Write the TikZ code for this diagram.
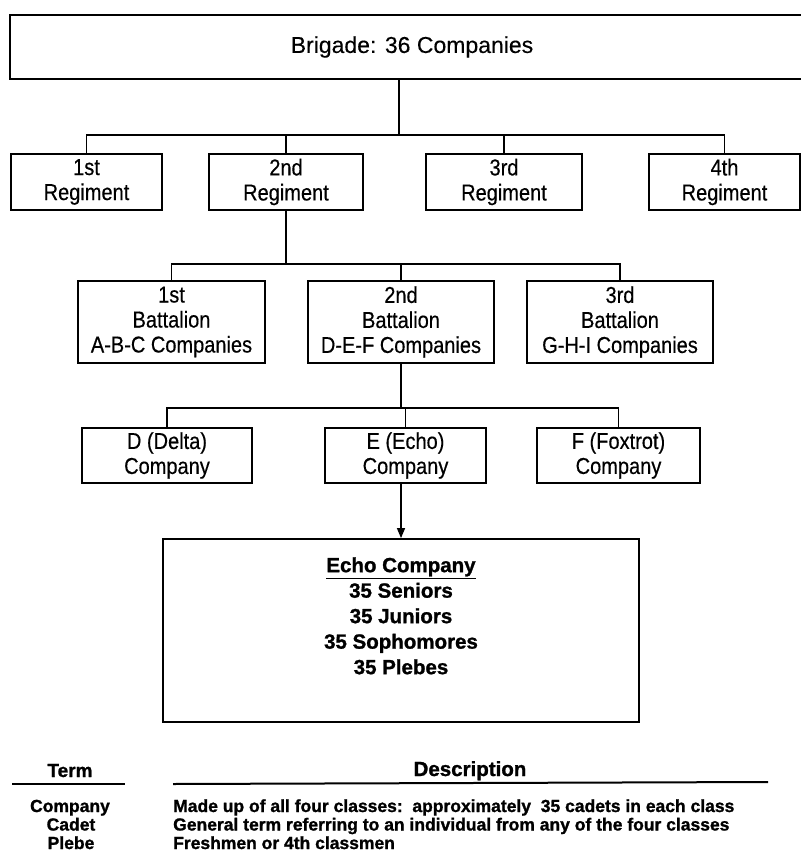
\documentclass[tikz,border=0pt]{standalone}
\usepackage{fontspec}
\setmainfont{Liberation Sans}
\newfontfamily\plainsans[FakeBold=0.3]{Liberation Sans}
\newfontfamily\narrowsans[FakeStretch=0.87, FakeBold=0.4]{Liberation Sans}
\newfontfamily\heavysans[FakeBold=1.2]{Liberation Sans Bold}
\usepackage{tikz}
\usetikzlibrary{positioning,arrows.meta}

\begin{document}
\begin{tikzpicture}[x=1pt, y=-1pt, >={Triangle[length=10pt,width=8pt]},
  box/.style={draw, line width=1.8pt, align=center, inner sep=0pt,
    font=\narrowsans\fontsize{23}{25}\selectfont},
  wire/.style={line width=1.4pt},
  rule/.style={line width=2pt},
  echotext/.style={align=center, inner sep=0pt, font=\heavysans\fontsize{20.5}{25.5}\selectfont},
  tabtext/.style={inner sep=0pt, anchor=base, font=\heavysans\fontsize{17.5}{18.5}\selectfont}]
  \useasboundingbox (0,0) rectangle (800,856);

  \node[box, minimum width=804pt, minimum height=64pt, font=\plainsans\fontsize{23}{25}\selectfont] (brigade) at (412,47) {Brigade: 36 Companies};

  \node[box, minimum width=151pt, minimum height=56pt] (reg1) at (86.5,182) {1st\\Regiment};
  \node[box, minimum width=154pt, minimum height=56pt] (reg2) at (286,182) {2nd\\Regiment};
  \node[box, minimum width=156pt, minimum height=56pt] (reg3) at (504,182) {3rd\\Regiment};
  \node[box, minimum width=151pt, minimum height=56pt] (reg4) at (724.5,182) {4th\\Regiment};

  \node[box, minimum width=187pt, minimum height=82pt] (bat1) at (171.5,322) {1st\\Battalion\\A-B-C Companies};
  \node[box, minimum width=186pt, minimum height=82pt] (bat2) at (401,322) {2nd\\Battalion\\D-E-F Companies};
  \node[box, minimum width=186pt, minimum height=82pt] (bat3) at (620,322) {3rd\\Battalion\\G-H-I Companies};

  \node[box, minimum width=170pt, minimum height=55pt] (dcomp) at (167,455.5) {D (Delta)\\Company};
  \node[box, minimum width=161pt, minimum height=55pt] (ecomp) at (405.5,455.5) {E (Echo)\\Company};
  \node[box, minimum width=163pt, minimum height=55pt] (fcomp) at (618.5,455.5) {F (Foxtrot)\\Company};

  \node[box, minimum width=476pt, minimum height=183pt] (echo) at (401,630.5) {};
  \node[echotext, below=19pt of echo.north] (echolist) {\underline{Echo Company}\\35 Seniors\\35 Juniors\\35 Sophomores\\35 Plebes};

  \coordinate (regbus) at (399,135);
  \draw[wire] (regbus |- brigade.south) -- (regbus);
  \draw[wire] (reg1.north) |- (regbus) -| (reg4.north);
  \draw[wire] (reg2.north) -- (reg2.north |- regbus);
  \draw[wire] (reg3.north) -- (reg3.north |- regbus);

  \coordinate (batbus) at (286,264);
  \draw[wire] (reg2.south) -- (batbus);
  \draw[wire] (bat1.north) |- (batbus) -| (bat3.north);
  \draw[wire] (bat2.north) -- (bat2.north |- batbus);

  \coordinate (cobus) at (401,408);
  \draw[wire] (bat2.south) -- (cobus);
  \draw[wire] (dcomp.north) |- (cobus) -| (fcomp.north);
  \draw[wire] (ecomp.north) -- (ecomp.north |- cobus);

  \draw[wire, ->] (echo.north |- ecomp.south) -- (echo.north);

  \node[tabtext, font=\heavysans\fontsize{19}{21}\selectfont] (termhead) at (70,777) {Term};
  \node[tabtext, font=\heavysans\fontsize{20.5}{22}\selectfont] (deschead) at (470,776) {Description};
  \draw[rule] (12,784) -- (125,784);
  \draw[rule] (173,784) -- (768,782);

  \node[tabtext] (term1) at (70,812) {Company};
  \node[tabtext] (term2) at (71,830.5) {Cadet};
  \node[tabtext] (term3) at (71,849) {Plebe};
  \node[tabtext, anchor=base west] (desc1) at (173,812) {Made up of all four classes:\ \ approximately\ \ 35 cadets in each class};
  \node[tabtext, anchor=base west] (desc2) at (173,830.5) {General term referring to an individual from any of the four classes};
  \node[tabtext, anchor=base west] (desc3) at (173,849) {Freshmen or 4th classmen};
\end{tikzpicture}
\end{document}
